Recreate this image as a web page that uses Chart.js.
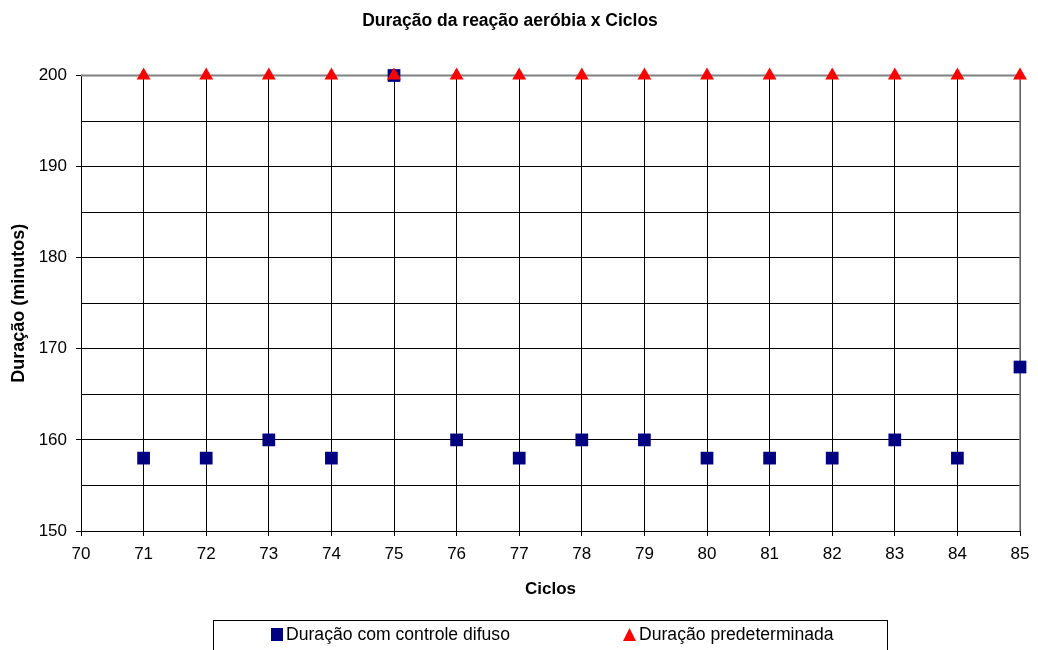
<!DOCTYPE html>
<html>
<head>
<meta charset="utf-8">
<script src="https://cdn.jsdelivr.net/npm/chart.js@4/dist/chart.umd.min.js"></script>
<style>
html,body{margin:0;padding:0;background:#fff;}
#wrap{width:1038px;height:650px;}
</style>
</head>
<body>
<div id="wrap"><canvas id="c" width="1038" height="650"></canvas></div>
<script>
const cycles = [71,72,73,74,75,76,77,78,79,80,81,82,83,84,85];
const fuzzyDuration = [158,158,160,158,200,160,158,160,160,158,158,158,160,158,168];
const presetDuration = [200,200,200,200,200,200,200,200,200,200,200,200,200,200,200];
const seriesNames = ['Duração com controle difuso','Duração predeterminada'];
const chartTitle = 'Duração da reação aeróbia x Ciclos';
const xTitle = 'Ciclos';
const yTitle = 'Duração (minutos)';

const FAM = '"Liberation Sans", Arial, sans-serif';
Chart.defaults.font.family = FAM;
Chart.defaults.color = '#000';

const toPts = (xs, ys) => xs.map((x,i)=>({x:x, y:ys[i]}));

const decor = {
  id:'decor',
  beforeDatasetsDraw(chart){
    const {ctx, chartArea:a} = chart;
    ctx.save();
    ctx.strokeStyle = '#808080';
    ctx.lineWidth = 2;
    ctx.beginPath();
    ctx.moveTo(a.left, a.top);
    ctx.lineTo(a.right, a.top);
    ctx.stroke();
    ctx.lineWidth = 1.5;
    ctx.beginPath();
    ctx.moveTo(a.right, a.top);
    ctx.lineTo(a.right, a.bottom);
    ctx.stroke();
    ctx.restore();
  },
  afterDraw(chart){
    const ctx = chart.ctx;
    ctx.save();
    ctx.strokeStyle = '#000';
    ctx.lineWidth = 1;
    ctx.strokeRect(213.5, 620.5, 674, 40);
    ctx.font = '17.6px ' + FAM;
    ctx.textBaseline = 'middle';
    ctx.fillStyle = '#000080';
    ctx.fillRect(271, 628, 12, 13);
    ctx.fillStyle = '#000';
    ctx.fillText(seriesNames[0], 286, 635);
    ctx.fillStyle = '#ff0000';
    ctx.beginPath();
    ctx.moveTo(629.5, 628);
    ctx.lineTo(636, 641);
    ctx.lineTo(623, 641);
    ctx.closePath();
    ctx.fill();
    ctx.fillStyle = '#000';
    ctx.fillText(seriesNames[1], 639, 635);
    ctx.restore();
  }
};

new Chart(document.getElementById('c'), {
  type:'scatter',
  data:{
    datasets:[
      {label:seriesNames[0], data:toPts(cycles,fuzzyDuration), pointStyle:'rect', pointRadius:9, pointHoverRadius:9,
       backgroundColor:'#000080', borderColor:'#000080', borderWidth:0, clip:false, order:2},
      {label:seriesNames[1], data:toPts(cycles,presetDuration), pointStyle:'triangle', pointRadius:8, pointHoverRadius:8,
       backgroundColor:'#ff0000', borderColor:'#ff0000', borderWidth:0, clip:false, order:1}
    ]
  },
  options:{
    responsive:false,
    animation:false,
    devicePixelRatio:1,
    layout:{padding:{left:0,right:18,top:0,bottom:0}},
    plugins:{
      legend:{display:false},
      tooltip:{enabled:false},
      title:{display:true, text:chartTitle, color:'#000', font:{size:17.5, weight:'bold', family:FAM}, padding:{top:10.5,bottom:44}}
    },
    scales:{
      x:{
        type:'linear', min:70, max:85,
        ticks:{stepSize:1, color:'#000', font:{size:17}, padding:8, maxRotation:0, autoSkip:false},
        grid:{color:'#000', lineWidth:1, tickLength:5, tickColor:'#000'},
        border:{color:'#000', width:1},
        title:{display:true, text:xTitle, color:'#000', font:{size:17, weight:'bold'}, padding:{top:0,bottom:50}},
        afterFit(s){ s.height = 119; }
      },
      y:{
        type:'linear', min:150, max:200,
        ticks:{stepSize:5, color:'#000', font:{size:17}, padding:9,
          callback:(v)=> (v % 10 === 0 ? String(v) : '')},
        grid:{color:'#000', lineWidth:1, tickLength:5,
          tickColor:(ctx)=> (ctx.tick && ctx.tick.value % 10 === 0 ? '#000' : 'rgba(0,0,0,0)')},
        border:{color:'#000', width:1},
        title:{display:true, text:yTitle, color:'#000', font:{size:18, weight:'bold'}, padding:{top:8.5,bottom:0}},
        afterFit(s){ s.width = 81; }
      }
    }
  },
  plugins:[decor]
});
</script>
</body>
</html>
